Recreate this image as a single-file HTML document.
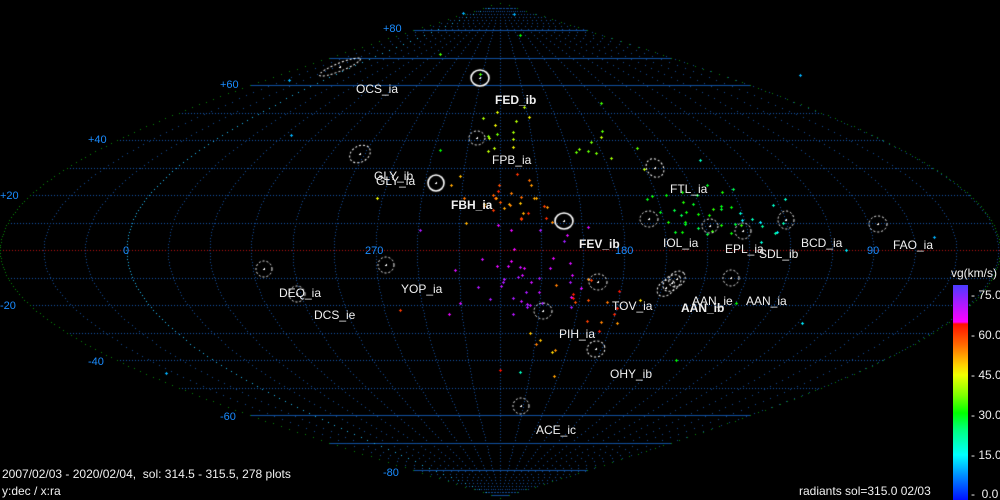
<!DOCTYPE html>
<html><head><meta charset="utf-8">
<style>
html,body{margin:0;padding:0;background:#000;}
#w{position:relative;width:1000px;height:500px;overflow:hidden;background:#000;font-family:"Liberation Sans",sans-serif;}
canvas{position:absolute;left:0;top:0;}
.t{position:absolute;white-space:nowrap;font-size:12px;line-height:12px;color:#f0f0f0;}
.b{font-weight:bold;}
.d{position:absolute;white-space:nowrap;font-size:11px;line-height:11px;color:#1a8cff;}
#bar{position:absolute;left:953px;top:285px;width:15px;height:215px;
background:linear-gradient(to bottom,#4a3cff 0px,#9a20ff 15px,#ff00ff 37px,#ff1000 39px,#ff6a00 60px,#ffd000 80px,#f0ff00 90px,#80ff00 110px,#00ff00 128px,#00ff80 145px,#00ffff 170px,#0090ff 190px,#0010ff 215px);}
</style></head><body>
<div id="w">
<canvas id="c" width="1000" height="500"></canvas>
<div class="d" style="left:383px;top:24px">+80</div>
<div class="d" style="left:220px;top:80px">+60</div>
<div class="d" style="left:88px;top:135px">+40</div>
<div class="d" style="left:0px;top:191px">+20</div>
<div class="d" style="left:123px;top:246px">0</div>
<div class="d" style="left:365px;top:246px">270</div>
<div class="d" style="left:615px;top:246px">180</div>
<div class="d" style="left:867px;top:246px">90</div>
<div class="d" style="left:0px;top:301px">-20</div>
<div class="d" style="left:88px;top:357px">-40</div>
<div class="d" style="left:220px;top:412px">-60</div>
<div class="d" style="left:383px;top:468px">-80</div>

<div class="t" style="left:356px;top:83px">OCS_ia</div>
<div class="t b" style="left:495px;top:94px">FED_ib</div>
<div class="t" style="left:492px;top:154px">FPB_ia</div>
<div class="t" style="left:374px;top:170px">GLY_ib</div>
<div class="t" style="left:376px;top:175px">GLY_ia</div>
<div class="t b" style="left:451px;top:199px">FBH_ia</div>
<div class="t" style="left:670px;top:183px">FTL_ia</div>
<div class="t b" style="left:579px;top:238px">FEV_ib</div>
<div class="t" style="left:663px;top:237px">IOL_ia</div>
<div class="t" style="left:725px;top:243px">EPL_ia</div>
<div class="t" style="left:759px;top:248px">SDL_ib</div>
<div class="t" style="left:801px;top:237px">BCD_ia</div>
<div class="t" style="left:893px;top:239px">FAO_ia</div>
<div class="t" style="left:279px;top:287px">DEQ_ia</div>
<div class="t" style="left:314px;top:309px">DCS_ie</div>
<div class="t" style="left:401px;top:283px">YOP_ia</div>
<div class="t" style="left:612px;top:300px">TOV_ia</div>
<div class="t" style="left:692px;top:295px">AAN_ie</div>
<div class="t b" style="left:681px;top:302px">AAN_ib</div>
<div class="t" style="left:746px;top:295px">AAN_ia</div>
<div class="t" style="left:559px;top:328px">PIH_ia</div>
<div class="t" style="left:610px;top:368px">OHY_ib</div>
<div class="t" style="left:536px;top:424px">ACE_ic</div>

<div class="t" style="left:2px;top:468px">2007/02/03 - 2020/02/04,&nbsp; sol: 314.5 - 315.5, 278 plots</div>
<div class="t" style="left:2px;top:485px">y:dec / x:ra</div>
<div class="t" style="left:799px;top:485px">radiants sol=315.0 02/03</div>

<div class="t" style="left:951px;top:267px">vg(km/s)</div>
<div id="bar"></div>
<div class="t" style="left:971px;top:289px">- 75.0</div>
<div class="t" style="left:971px;top:329px">- 60.0</div>
<div class="t" style="left:971px;top:369px">- 45.0</div>
<div class="t" style="left:971px;top:409px">- 30.0</div>
<div class="t" style="left:971px;top:449px">- 15.0</div>
<div class="t" style="left:971px;top:488px">-&nbsp; 0.0</div>
</div>
<script>
var c=document.getElementById('c'),g=c.getContext('2d');
var R=Math.PI/180,K=2.767;
function P(ra,dec){var o=225-ra;while(o>180)o-=360;while(o<-180)o+=360;return [500+o*K*Math.cos(dec*R),250-dec*2.75];}
function dot(x,y,col){g.fillStyle=col;g.fillRect(Math.round(x),Math.round(y),1,1);}
for(var d=-80;d<=80;d+=10){var y=250-d*2.75,hw=500*Math.cos(d*R);
 if(d==0){for(var x=500-hw;x<500+hw;x+=3)dot(x,y,'#c01010');continue;}
 if(Math.abs(d)>=60){g.fillStyle='#1050a0';g.fillRect(Math.round(500-hw),Math.round(y),Math.round(2*hw),1);}
 else{for(var x=500-hw;x<500+hw;x+=3)dot(x,y,'#1458b0');}}
for(var ra=0;ra<360;ra+=15){var col=(ra==0)?'#20b8f0':'#124c98';
 for(var d=-89;d<=89;d+=1.1){var p=P(ra,d);dot(p[0],p[1],col);}}
for(var d=-90;d<=90;d+=1){var y=250-d*2.75,hw=500*Math.cos(d*R);dot(500-hw,y,'#0a8a0a');dot(500+hw,y,'#0a8a0a');}
function vc(v){var s=[[0,[0,16,255]],[10,[0,140,255]],[16,[0,255,255]],[24,[0,255,128]],[30,[0,255,0]],[40,[128,255,0]],[46,[240,255,0]],[52,[255,200,0]],[58,[255,100,0]],[62,[255,16,0]],[62.5,[255,0,255]],[72,[150,30,255]],[80,[74,60,255]]];
 for(var i=1;i<s.length;i++)if(v<=s[i][0]){var a=s[i-1],b=s[i],t=(v-a[0])/(b[0]-a[0]);return 'rgb('+[0,1,2].map(function(k){return Math.round(a[1][k]+(b[1][k]-a[1][k])*t)}).join(',')+')';}return 'rgb(74,60,255)';}
function cross(x,y,col){g.fillStyle=col;x=Math.round(x);y=Math.round(y);g.fillRect(x-1,y,3,1);g.fillRect(x,y-1,1,3);}
var seed=7;function rnd(){seed=(seed*16807)%2147483647;return seed/2147483647;}
function cl(n,cx,cy,sx,sy,v0,v1){for(var i=0;i<n;i++){var x=cx+(rnd()+rnd()-1)*sx,y=cy+(rnd()+rnd()-1)*sy;cross(x,y,vc(v0+rnd()*(v1-v0)));}}
cl(14,500,130,40,35,38,48);
cl(10,600,150,55,25,36,44);
cl(32,505,200,55,30,52,61);
cl(40,520,275,75,55,64,72);
cl(32,690,215,60,35,26,34);
cl(10,760,230,50,35,14,22);
cl(14,590,300,40,40,55,62);
cl(6,560,350,40,30,50,58);
var sc=[[289,80,12],[291,135,12],[440,150,30],[480,74,36],[440,54,35],[463,13,12],[514,14,12],[377,198,46],[166,373,12],[676,360,30],[802,323,15],[846,250,15],[934,237,12],[800,75,12],[520,35,30],[601,103,35],[736,303,30],[500,370,62],[617,323,55],[520,372,20],[400,310,60],[540,230,70],[455,270,66],[420,230,70],[640,300,50],[700,160,20],[742,220,15]];
sc.forEach(function(s){cross(s[0],s[1],vc(s[2]));});
function el(x,y,rx,ry,rot,solid){g.save();g.translate(x,y);g.rotate(rot*R);g.strokeStyle='#fff';g.lineWidth=solid?1.6:1;g.setLineDash(solid?[]:[2,2]);g.beginPath();g.ellipse(0,0,rx,ry,0,0,2*Math.PI);g.stroke();g.restore();g.fillStyle='#fff';g.fillRect(Math.round(x)-1,Math.round(y),2,1);g.fillRect(Math.round(x),Math.round(y)-1,1,1);}
[[340,67,22,4,-22,0],[480,78,9,8,0,1],[477,138,8,7,0,0],[360,154,11,8,-30,0],[436,183,8,8,0,1],[564,221,9,8,0,1],[655,168,8,10,-40,0],[649,219,9,8,0,0],[710,226,8,7,0,0],[743,231,8,8,0,0],[786,220,8,9,0,0],[878,224,9,8,0,0],[264,269,8,8,0,0],[386,265,8,8,0,0],[297,294,8,8,0,0],[598,282,9,8,0,0],[543,311,9,8,0,0],[666,288,10,7,-40,0],[672,283,10,7,-40,0],[677,279,9,7,-40,0],[731,278,8,8,0,0],[596,349,9,8,-20,0],[521,406,8,8,0,0]].forEach(function(e){el.apply(null,e);});
</script>
</body></html>
